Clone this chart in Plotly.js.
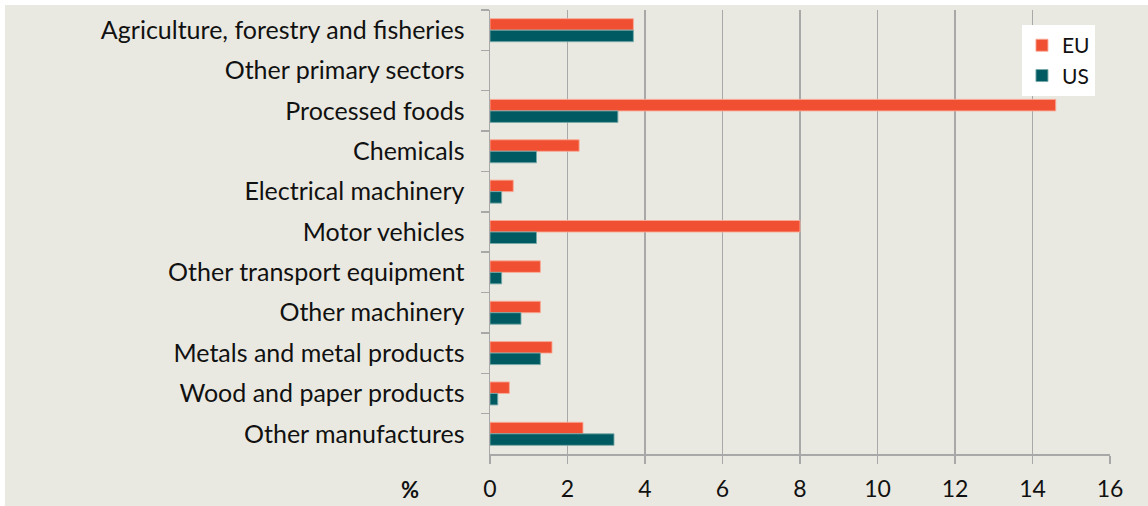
<!DOCTYPE html>
<html>
<head>
<meta charset="utf-8">
<script src="https://cdn.plot.ly/plotly-3.0.1.min.js"></script>
<style>
  html, body { margin: 0; padding: 0; background: #ffffff; }
  #chart { position: absolute; left: 5px; top: 5px; width: 1143px; height: 501px; }
</style>
</head>
<body>
<div id="chart"></div>
<script>
const categories = [
  "Agriculture, forestry and fisheries",
  "Other primary sectors",
  "Processed foods",
  "Chemicals",
  "Electrical machinery",
  "Motor vehicles",
  "Other transport equipment",
  "Other machinery",
  "Metals and metal products",
  "Wood and paper products",
  "Other manufactures"
];
const euValues = [3.7, null, 14.6, 2.3, 0.6, 8.0, 1.3, 1.3, 1.6, 0.5, 2.4];
const usValues = [3.7, null, 3.3, 1.2, 0.3, 1.2, 0.3, 0.8, 1.3, 0.2, 3.2];
const xTicks = [0, 2, 4, 6, 8, 10, 12, 14, 16];

const FONT = "Lato, 'Open Sans', sans-serif";
const traces = [
  {
    type: "bar", orientation: "h", name: "EU",
    y: categories, x: euValues,
    marker: { color: "#F04F32", line: { color: "rgba(248,170,150,0.9)", width: 1 } }
  },
  {
    type: "bar", orientation: "h", name: "US",
    y: categories, x: usValues,
    marker: { color: "#005A62", line: { color: "rgba(120,170,170,0.9)", width: 1 } }
  }
];

const layout = {
  width: 1143, height: 501,
  paper_bgcolor: "#EAE9E1",
  plot_bgcolor: "#EAE9E1",
  margin: { l: 485, r: 38, t: 5, b: 52 },
  barmode: "group",
  bargap: 0.43,
  bargroupgap: 0,
  font: { family: FONT, color: "#111111" },
  showlegend: true,
  legend: {
    x: 0.858, y: 0.966, xanchor: "left", yanchor: "top",
    bgcolor: "#FFFFFF",
    font: { family: FONT, size: 21, color: "#111111" },
    itemwidth: 30,
    tracegroupgap: 0
  },
  xaxis: {
    range: [0, 16],
    tickvals: xTicks,
    ticktext: xTicks.map(String),
    showgrid: true, gridcolor: "#A8A8A8", gridwidth: 1.5,
    zeroline: false,
    showline: true, linecolor: "#A8A8A8", linewidth: 1.5,
    ticks: "outside", ticklen: 8, tickcolor: "#A8A8A8", tickwidth: 1.5,
    tickfont: { family: FONT, size: 23, color: "#111111" },
    ticklabelstandoff: 6,
    fixedrange: true
  },
  yaxis: {
    type: "category",
    autorange: "reversed",
    showgrid: false,
    zeroline: false,
    showline: true, linecolor: "#A8A8A8", linewidth: 1.5,
    ticks: "outside", ticklen: 8, tickcolor: "#A8A8A8", tickwidth: 1.5,
    tickson: "boundaries",
    tickfont: { family: FONT, size: 25, color: "#111111" },
    ticklabelstandoff: 19,
    fixedrange: true
  },
  annotations: [
    {
      text: "<b>%</b>", xref: "paper", yref: "paper",
      x: -0.129, y: -0.079, xanchor: "center", yanchor: "middle",
      showarrow: false, font: { family: FONT, size: 22, color: "#111111" }
    }
  ]
};

Plotly.newPlot("chart", traces, layout, { displayModeBar: false, staticPlot: true });
</script>
</body>
</html>
